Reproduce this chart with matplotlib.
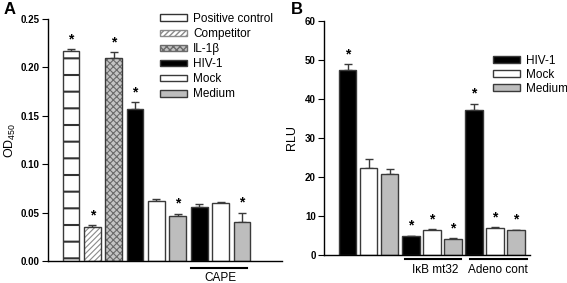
import numpy as np
import matplotlib
matplotlib.use("Agg")
import matplotlib.pyplot as plt
import matplotlib.transforms as mtransforms
from matplotlib.patches import Patch

plt.rcParams["font.family"] = ["Liberation Sans", "DejaVu Sans"]
plt.rcParams["mathtext.fontset"] = "custom"
plt.rcParams["mathtext.rm"] = "Liberation Sans"

# ---- panel A data ----
a_labels = ["Positive control", "Competitor", "IL-1\u03b2", "HIV-1", "Mock", "Medium",
            "HIV-1", "Mock", "Medium"]
a_vals = [0.217, 0.035, 0.210, 0.157, 0.062, 0.047, 0.056, 0.060, 0.040]
a_errs = [0.002, 0.002, 0.006, 0.007, 0.002, 0.002, 0.003, 0.001, 0.010]
a_star = [True, True, True, True, False, True, False, False, True]
a_yticks = [0.00, 0.05, 0.10, 0.15, 0.20, 0.25]

# ---- panel B data ----
b_labels = ["HIV-1", "Mock", "Medium"] * 3
b_vals = [47.5, 22.2, 20.7, 4.8, 6.4, 4.1, 37.3, 6.8, 6.3]
b_errs = [1.5, 2.5, 1.3, 0.15, 0.25, 0.25, 1.5, 0.35, 0.2]
b_star = [True, False, False, True, True, True, True, True, True]
b_yticks = [0, 10, 20, 30, 40, 50, 60]

# bar styles: (face, hatch, hatch colour, hatch linewidth)
STYLE = {
    "Positive control": ("white", "-", "#333333", 1.5),
    "Competitor": ("white", "//////", "#8a8a8a", 0.8),
    "IL-1\u03b2": ("#c4c4c4", "xxxxx", "#6a6a6a", 0.8),
    "HIV-1": ("black", None, None, 1.0),
    "Mock": ("white", None, None, 1.0),
    "Medium": ("#bdbdbd", None, None, 1.0),
}
EDGE = "#3a3a3a"


def draw_bars(ax, labels, vals, errs, stars, width, ymax):
    x = np.arange(len(vals))
    for xi, lab, v, e, s in zip(x, labels, vals, errs, stars):
        face, hatch, hcol, hlw = STYLE[lab]
        if hatch:
            with plt.rc_context({"hatch.linewidth": hlw}):
                ax.bar(xi, v, width=width, color=face, edgecolor=hcol, hatch=hatch,
                       linewidth=0, zorder=2)
            ax.bar(xi, v, width=width, color="none", edgecolor=EDGE, linewidth=1.0, zorder=3)
        else:
            ax.bar(xi, v, width=width, color=face, edgecolor=EDGE, linewidth=1.0, zorder=2)
        ax.errorbar(xi, v, yerr=[[0], [e]], fmt="none", ecolor=EDGE, elinewidth=1.0,
                    capsize=3, capthick=1.0, zorder=1)
        if s:
            ax.text(xi, v + e + ymax * 0.012, "*", ha="center", va="bottom",
                    fontsize=10, fontweight="bold")


def style_axis(ax, yticks, fmt):
    ax.spines["top"].set_visible(False)
    ax.spines["right"].set_visible(False)
    ax.set_xticks([])
    ax.set_yticks(yticks)
    ax.set_yticklabels([fmt.format(t) for t in yticks], fontsize=7, fontweight="bold")
    ax.tick_params(axis="y", direction="out", length=4, width=0.8, pad=2)
    ax.set_ylim(yticks[0], yticks[-1])
    for sp in ax.spines.values():
        sp.set_linewidth(1.0)


def legend_handles(names):
    hs = []
    for n in names:
        face, hatch, hcol, hlw = STYLE[n]
        with plt.rc_context({"hatch.linewidth": min(hlw, 1.2)}):
            hs.append(Patch(facecolor=face, edgecolor=hcol if hatch else EDGE,
                            hatch=hatch, linewidth=1.0, label=n))
    return hs


LEG_KW = dict(loc="upper left", frameon=False, fontsize=8.5, handlelength=2.3,
              handleheight=0.5, handletextpad=0.5, borderpad=0, borderaxespad=0)

fig = plt.figure(figsize=(5.67, 2.83), dpi=100)

# ---- panel A ----
axA = fig.add_axes([48 / 567, 1 - 261 / 283, 234 / 567, 242 / 283])
draw_bars(axA, a_labels, a_vals, a_errs, a_star, 0.78, 0.25)
style_axis(axA, a_yticks, "{:.2f}")
axA.set_xlim(-1.07, 9.87)
axA.set_ylabel("OD$_{450}$", fontsize=9, labelpad=2)
trA = mtransforms.blended_transform_factory(axA.transData, axA.transAxes)
axA.plot([5.61, 8.23], [-0.029, -0.029], color="black", lw=1.5, transform=trA, clip_on=False)
axA.text(7.0, -0.07, "CAPE", transform=trA, ha="center", va="center", fontsize=8.5)
fig.legend(handles=legend_handles(["Positive control", "Competitor", "IL-1\u03b2",
                                   "HIV-1", "Mock", "Medium"]),
           bbox_to_anchor=(160 / 567, 1 - 13 / 283), labelspacing=0.26, **LEG_KW)
fig.text(4 / 567, 1 - 10 / 283, "A", fontsize=12, fontweight="bold", va="center")

# ---- panel B ----
axB = fig.add_axes([324 / 567, 1 - 255 / 283, 206 / 567, 234 / 283])
draw_bars(axB, b_labels, b_vals, b_errs, b_star, 0.83, 60)
style_axis(axB, b_yticks, "{:d}")
axB.set_xlim(-1.12, 8.66)
axB.set_ylabel("RLU", fontsize=9, labelpad=5)
trB = mtransforms.blended_transform_factory(axB.transData, axB.transAxes)
axB.plot([2.73, 5.39], [-0.018, -0.018], color="black", lw=1.5, transform=trB, clip_on=False)
axB.plot([5.81, 8.52], [-0.018, -0.018], color="black", lw=1.5, transform=trB, clip_on=False)
axB.text(4.15, -0.066, "I\u03baB mt32", transform=trB, ha="center", va="center", fontsize=8.5)
axB.text(7.14, -0.066, "Adeno cont", transform=trB, ha="center", va="center", fontsize=8.5)
fig.legend(handles=legend_handles(["HIV-1", "Mock", "Medium"]),
           bbox_to_anchor=(493 / 567, 1 - 55 / 283), labelspacing=0.17, **LEG_KW)
fig.text(291 / 567, 1 - 10 / 283, "B", fontsize=12, fontweight="bold", va="center")

fig.savefig("out.png", dpi=100)
